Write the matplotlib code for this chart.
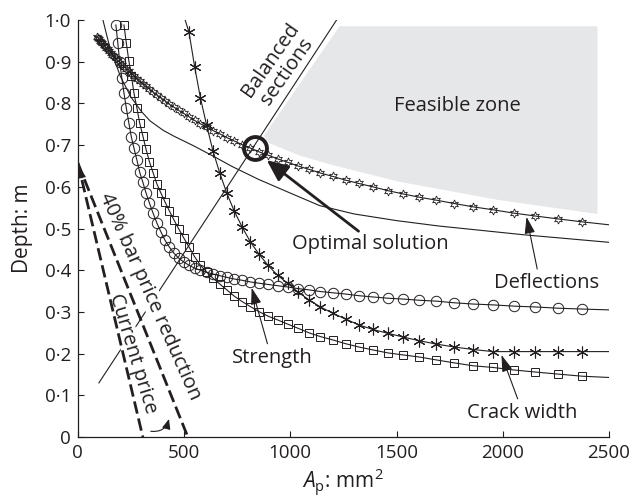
import matplotlib
matplotlib.use('Agg')
import matplotlib.pyplot as plt
from matplotlib.patches import Polygon

plt.rcParams['font.family'] = ['Open Sans', 'DejaVu Sans']
plt.rcParams['mathtext.fontset'] = 'custom'
plt.rcParams['mathtext.rm'] = 'Open Sans'
plt.rcParams['mathtext.it'] = 'Open Sans:italic'

INK = '#231f20'

ap_grid = [90, 95, 100, 105, 110, 115, 121, 127, 134, 140, 147, 155, 162, 170,
           179, 188, 197, 207, 217, 228, 240, 252, 264, 278, 291, 306, 321, 337,
           354, 372, 391, 410, 430, 452, 475, 498, 523, 550, 577, 606, 636, 668,
           701, 736, 773, 812, 852, 895, 940, 987, 1036, 1088, 1142, 1200, 1260,
           1323, 1389, 1458, 1531, 1608, 1688, 1772, 1861, 1954, 2052, 2154,
           2262, 2375]
ap_end = 2500

# depth (m) of each constraint curve
defl_depth = [0.960, 0.957, 0.954, 0.950, 0.947, 0.944, 0.941, 0.937, 0.933,
              0.930, 0.926, 0.921, 0.917, 0.913, 0.908, 0.903, 0.898, 0.893,
              0.888, 0.883, 0.877, 0.871, 0.866, 0.859, 0.853, 0.847, 0.841,
              0.834, 0.827, 0.820, 0.813, 0.806, 0.798, 0.791, 0.783, 0.776,
              0.768, 0.759, 0.751, 0.743, 0.735, 0.727, 0.718, 0.710, 0.701,
              0.693, 0.684, 0.676, 0.667, 0.659, 0.650, 0.642, 0.633, 0.625,
              0.616, 0.608, 0.600, 0.591, 0.583, 0.575, 0.568, 0.560, 0.552,
              0.545, 0.537, 0.530, 0.523, 0.516, 0.509]

strength_start = 14
strength_depth = [0.988, 0.945, 0.899, 0.861, 0.825, 0.789, 0.753, 0.719, 0.693,
                  0.664, 0.635, 0.611, 0.585, 0.561, 0.537, 0.513, 0.492, 0.472,
                  0.456, 0.441, 0.429, 0.420, 0.412, 0.405, 0.400, 0.395, 0.391,
                  0.387, 0.383, 0.379, 0.376, 0.372, 0.369, 0.366, 0.363, 0.360,
                  0.356, 0.353, 0.349, 0.346, 0.343, 0.339, 0.336, 0.333, 0.331,
                  0.328, 0.326, 0.322, 0.319, 0.317, 0.314, 0.312, 0.309, 0.307,
                  0.305]

crack_start = 18
crack_depth = [0.988, 0.945, 0.902, 0.866, 0.825, 0.789, 0.753, 0.722, 0.690,
               0.660, 0.634, 0.607, 0.585, 0.564, 0.543, 0.521, 0.499, 0.478,
               0.456, 0.432, 0.412, 0.396, 0.381, 0.367, 0.353, 0.338, 0.325,
               0.313, 0.301, 0.290, 0.281, 0.271, 0.261, 0.250, 0.241, 0.233,
               0.224, 0.216, 0.209, 0.202, 0.197, 0.192, 0.185, 0.178, 0.171,
               0.167, 0.161, 0.156, 0.151, 0.146, 0.143]

aster_start = 36
aster_top_ap = 505
aster_depth = [0.971, 0.887, 0.813, 0.748, 0.686, 0.633, 0.585, 0.542, 0.504,
               0.468, 0.439, 0.412, 0.388, 0.369, 0.348, 0.329, 0.312, 0.297,
               0.283, 0.269, 0.258, 0.249, 0.240, 0.231, 0.223, 0.216, 0.210,
               0.205, 0.205, 0.205, 0.205, 0.205, 0.205]

# second deflection limit (plain line)
defl2_ap = [118, 150, 200, 250, 300, 340, 400, 450, 550, 650, 729, 850, 1000,
            1138, 1300, 1500, 1700, 1891, 2100, 2300, 2500]
defl2_depth = [1.0, 0.935, 0.865, 0.815, 0.780, 0.758, 0.736, 0.722, 0.697,
               0.670, 0.648, 0.618, 0.585, 0.555, 0.535, 0.519, 0.506, 0.496,
               0.485, 0.476, 0.467]

balanced_ap = [99, 1218]
balanced_depth = [0.13, 1.0]

price_depth = [0.657, 0.0]
current_ap = [0, 306]
reduced_ap = [0, 518]

zone_ap = [1232, 2446, 2446, 1985, 1514, 1200, 1044, 900, 875]
zone_depth = [0.985, 0.985, 0.535, 0.568, 0.612, 0.652, 0.675, 0.705, 0.722]

optimum = (833, 0.693)

x_ticks = [0, 500, 1000, 1500, 2000, 2500]
y_ticks = [0, 0.1, 0.2, 0.3, 0.4, 0.5, 0.6, 0.7, 0.8, 0.9, 1.0]
y_tick_labels = ['0', '0·1', '0·2', '0·3', '0·4', '0·5', '0·6', '0·7', '0·8',
                 '0·9', '1·0']

fig = plt.figure(figsize=(6.33, 4.99), dpi=100)
ax = fig.add_axes([0.123, 0.124, 0.839, 0.836])

# feasible zone
ax.add_patch(Polygon(list(zip(zone_ap, zone_depth)), closed=True,
                     fc='#e6e7e8', ec='none', zorder=0))

lw = 0.8
# deflection (hexagram markers)
x = ap_grid + [ap_end]
ax.plot(x, defl_depth, color=INK, lw=lw, marker=(6, 1, 0), ms=6.5,
        mfc='none', mec=INK, mew=0.6, markevery=slice(0, -1), zorder=2)
ax.plot(defl2_ap, defl2_depth, color=INK, lw=lw, zorder=2)

# strength (circles)
x = ap_grid[strength_start:] + [ap_end]
ax.plot(x, strength_depth, color=INK, lw=lw, marker='o', ms=7.5, mfc='none',
        mec=INK, mew=0.7, markevery=slice(0, -1), zorder=2)

# crack width (squares)
x = ap_grid[crack_start:] + [ap_end]
ax.plot(x, crack_depth, color=INK, lw=lw, marker='s', ms=6, mfc='none',
        mec=INK, mew=0.7, markevery=slice(0, -1), zorder=2)

# asterisks
x = [aster_top_ap] + ap_grid[aster_start:] + [ap_end]
y = [1.0] + aster_depth
ax.plot(x, y, color=INK, lw=lw, marker=(6, 2, 0), ms=8.5, mec=INK, mew=0.8,
        markevery=slice(1, -1), zorder=2)

# balanced sections line
ax.plot(balanced_ap, balanced_depth, color=INK, lw=lw, zorder=1.5)

# price lines
ax.plot(current_ap, price_depth, color=INK, lw=2.0, dashes=(4.5, 1.8),
        zorder=4)
ax.plot(reduced_ap, price_depth, color=INK, lw=2.0, dashes=(4.5, 1.8),
        zorder=4)

# optimum
ax.plot(*optimum, marker='o', ms=16.5, mfc='none', mec=INK, mew=2.8, zorder=5)

fs = 14.5
ax.text(1787, 0.794, 'Feasible zone', ha='center', va='center', fontsize=fs,
        color=INK)
ax.text(948, 0.890, 'Balanced\nsections', ha='center', va='center',
        fontsize=fs, color=INK, rotation=55, rotation_mode='anchor',
        linespacing=1.0)
ax.text(340, 0.338, '40% bar price reduction', ha='center', va='center',
        fontsize=fs, color=INK, rotation=-66, rotation_mode='anchor',
        bbox=dict(fc='white', ec='none', pad=0.3), zorder=3)
ax.text(259, 0.20, 'Current price', ha='center', va='center', fontsize=fs,
        color=INK, rotation=-73, rotation_mode='anchor',
        bbox=dict(fc='white', ec='none', pad=0.3), zorder=3)

ax.annotate('Optimal solution', xy=(889, 0.664), xytext=(1375, 0.463),
            ha='center', va='center', fontsize=fs, color=INK, zorder=5,
            arrowprops=dict(arrowstyle='-|>,head_length=0.9,head_width=0.4',
                            lw=2.0, color=INK, shrinkA=0, shrinkB=0,
                            relpos=(0.45, 1.0)))
leader = dict(arrowstyle='-|>,head_length=0.7,head_width=0.22', lw=0.8,
              color=INK, shrinkA=1, shrinkB=0)
ax.annotate('Deflections', xy=(2112, 0.528), xytext=(2206, 0.369),
            ha='center', va='center', fontsize=fs, color=INK,
            arrowprops=dict(leader, relpos=(0.42, 1.0)))
ax.annotate('Strength', xy=(818, 0.358), xytext=(917, 0.19),
            ha='center', va='center', fontsize=fs, color=INK,
            arrowprops=dict(leader, relpos=(0.45, 1.0)))
ax.annotate('Crack width', xy=(1994, 0.197), xytext=(2093, 0.058),
            ha='center', va='center', fontsize=fs, color=INK,
            arrowprops=dict(leader, relpos=(0.47, 1.0)))

# small arrows showing the shift of the price line
ax.annotate('', xy=(432, 0.05), xytext=(330, 0.015),
            arrowprops=dict(arrowstyle='-|>,head_length=0.6,head_width=0.25',
                            lw=0.8, color=INK,
                            connectionstyle='arc3,rad=0.5'), zorder=4)
ax.annotate('', xy=(6, 0.652), xytext=(22, 0.615),
            arrowprops=dict(arrowstyle='-|>,head_length=0.6,head_width=0.25',
                            lw=0.8, color=INK), zorder=4)

ax.set_xlim(0, 2500)
ax.set_ylim(0, 1.0)
ax.set_xticks(x_ticks)
ax.set_xticklabels([str(t) for t in x_ticks])
ax.set_yticks(y_ticks)
ax.set_yticklabels(y_tick_labels)
ax.tick_params(direction='in', length=4, width=0.8, labelsize=13.5,
               colors=INK, pad=5)
for side in ['top', 'right']:
    ax.spines[side].set_visible(False)
for side in ['left', 'bottom']:
    ax.spines[side].set_linewidth(0.9)
    ax.spines[side].set_color(INK)
ax.set_xlabel(r'$A_\mathrm{p}$: mm$^2$', fontsize=15, color=INK, labelpad=3)
ax.set_ylabel('Depth: m', fontsize=15, color=INK, labelpad=8)

plt.savefig('out.png', dpi=100)
